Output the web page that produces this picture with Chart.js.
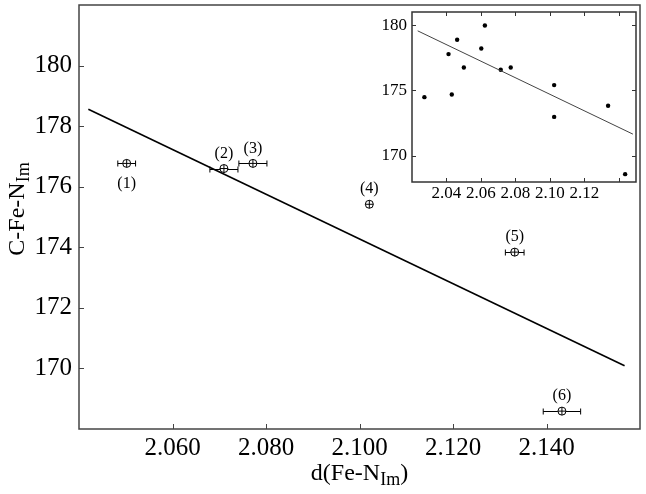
<!DOCTYPE html>
<html lang="en">
<head>
  <meta charset="UTF-8" />
  <title>C-Fe-N(Im) vs d(Fe-N(Im))</title>
  <script src="https://cdn.jsdelivr.net/npm/chart.js"></script>
  <style>
    html, body { margin: 0; padding: 0; background: #fff; }
    #wrap { position: relative; width: 646px; height: 494px; }
    #main { position: absolute; left: 0; top: 0; }
    #inset { position: absolute; left: 370px; top: 0; }
  </style>
</head>
<body>
  <div id="wrap">
    <canvas id="main" width="646" height="494"></canvas>
    <canvas id="inset" width="276" height="205"></canvas>
  </div>

  <script>
    // main plot data
    const pointLabels = ['(1)', '(2)', '(3)', '(4)', '(5)', '(6)'];
    const dFeN = [2.0502, 2.0710, 2.0772, 2.1021, 2.1332, 2.1433];
    const angleCFeN = [176.77, 176.60, 176.77, 175.42, 173.84, 168.59];
    const dErr = [0.0019, 0.0030, 0.0030, 0.0005, 0.0020, 0.0040];
    const fitX = [2.0420, 2.1567];
    const fitY = [178.56, 170.09];
    const xTicks = [2.060, 2.080, 2.100, 2.120, 2.140];
    const yTicks = [170, 172, 174, 176, 178, 180];

    // inset data
    const insetX = [2.0272, 2.0412, 2.0431, 2.0462, 2.0501, 2.0602, 2.0623, 2.0715, 2.0773, 2.1025, 2.1025, 2.1338, 2.1437];
    const insetY = [174.49, 177.78, 174.69, 178.88, 176.76, 178.21, 179.97, 176.58, 176.76, 175.41, 172.98, 173.83, 168.60];
    const insetFitX = [2.0233, 2.1482];
    const insetFitY = [179.56, 171.66];
    const insetXTicks = [2.04, 2.06, 2.08, 2.10, 2.12, 2.14];
    const insetXLabels = ['2.04', '2.06', '2.08', '2.10', '2.12', ''];
    const insetYTicks = [170, 175, 180];

    const SERIF = '"Liberation Serif", "Times New Roman", serif';

    function toPoints(xs, ys) {
      return xs.map((x, i) => ({ x, y: ys[i] }));
    }

    // no automatic label padding around the plot area
    function noPad(s) {
      s.paddingTop = 0; s.paddingBottom = 0;
      s.paddingLeft = 0; s.paddingRight = 0;
    }

    // text with a subscript part, centred on (cx, y)
    function drawSubText(ctx, cx, y, main, sub, tail, size, subSize, drop) {
      ctx.font = size + 'px ' + SERIF;
      const w1 = ctx.measureText(main).width;
      const w3 = ctx.measureText(tail).width;
      ctx.font = subSize + 'px ' + SERIF;
      const w2 = ctx.measureText(sub).width;
      let x = cx - (w1 + w2 + w3) / 2;
      ctx.textAlign = 'left';
      ctx.textBaseline = 'alphabetic';
      ctx.font = size + 'px ' + SERIF;
      ctx.fillText(main, x, y);
      ctx.font = subSize + 'px ' + SERIF;
      ctx.fillText(sub, x + w1, y + drop);
      ctx.font = size + 'px ' + SERIF;
      ctx.fillText(tail, x + w1 + w2, y);
    }

    // frame and inward tick marks
    function drawFrame(chart, xVals, yVals, len, allSides, color, width) {
      const { ctx, chartArea: a, scales } = chart;
      ctx.save();
      ctx.strokeStyle = color;
      ctx.lineWidth = width;
      ctx.strokeRect(a.left, a.top, a.right - a.left, a.bottom - a.top);
      ctx.lineWidth = 1;
      ctx.beginPath();
      xVals.forEach(v => {
        const px = Math.round(scales.x.getPixelForValue(v)) + 0.5;
        ctx.moveTo(px, a.bottom); ctx.lineTo(px, a.bottom - len);
        if (allSides) { ctx.moveTo(px, a.top); ctx.lineTo(px, a.top + len); }
      });
      yVals.forEach(v => {
        const py = Math.round(scales.y.getPixelForValue(v)) + 0.5;
        ctx.moveTo(a.left, py); ctx.lineTo(a.left + len, py);
        if (allSides) { ctx.moveTo(a.right, py); ctx.lineTo(a.right - len, py); }
      });
      ctx.stroke();
      ctx.restore();
    }

    const mainDecor = {
      id: 'mainDecor',
      beforeDatasetsDraw(chart) {
        const { ctx, scales: { x, y } } = chart;
        ctx.save();
        ctx.strokeStyle = '#000';
        ctx.lineWidth = 1;
        dFeN.forEach((d, i) => {
          const py = Math.round(y.getPixelForValue(angleCFeN[i])) + 0.5;
          const x0 = x.getPixelForValue(d - dErr[i]);
          const x1 = x.getPixelForValue(d + dErr[i]);
          ctx.beginPath();
          ctx.moveTo(x0, py); ctx.lineTo(x1, py);
          ctx.moveTo(x0, py - 3); ctx.lineTo(x0, py + 3);
          ctx.moveTo(x1, py - 3); ctx.lineTo(x1, py + 3);
          ctx.stroke();
        });
        ctx.restore();
      },
      afterDatasetsDraw(chart) {
        const { ctx, scales: { x, y } } = chart;
        drawFrame(chart, xTicks, yTicks, 5, false, '#444', 1.5);
        ctx.save();
        ctx.fillStyle = '#000';
        ctx.font = '16px ' + SERIF;
        ctx.textAlign = 'center';
        ctx.textBaseline = 'middle';
        pointLabels.forEach((lab, i) => {
          const px = x.getPixelForValue(dFeN[i]);
          const py = y.getPixelForValue(angleCFeN[i]);
          ctx.fillText(lab, px, i === 0 ? py + 20 : py - 15);
        });
        // axis titles
        const a = chart.chartArea;
        drawSubText(ctx, (a.left + a.right) / 2, 480, 'd(Fe-N', 'Im', ')', 24, 18, 5);
        ctx.translate(24, 209);
        ctx.rotate(-Math.PI / 2);
        drawSubText(ctx, 0, 0, 'C-Fe-N', 'Im', '', 24, 18, 5);
        ctx.restore();
      }
    };

    new Chart(document.getElementById('main'), {
      type: 'scatter',
      data: {
        datasets: [
          {
            data: toPoints(fitX, fitY),
            showLine: true,
            borderColor: '#000',
            borderWidth: 1.6,
            pointRadius: 0,
            order: 3
          },
          {
            data: toPoints(dFeN, angleCFeN),
            pointStyle: 'circle',
            pointRadius: 4,
            backgroundColor: '#fff',
            borderColor: '#000',
            borderWidth: 1,
            order: 2
          },
          {
            data: toPoints(dFeN, angleCFeN),
            pointStyle: 'cross',
            pointRadius: 4,
            borderColor: '#000',
            borderWidth: 1,
            order: 1
          }
        ]
      },
      options: {
        responsive: false,
        animation: false,
        devicePixelRatio: 1,
        layout: { padding: { top: 5, right: 6, left: 0, bottom: 0 } },
        plugins: { legend: { display: false }, tooltip: { enabled: false } },
        scales: {
          x: {
            type: 'linear',
            min: 2.04,
            max: 2.16,
            afterBuildTicks: s => { s.ticks = xTicks.map(v => ({ value: v })); },
            afterFit: s => { s.height = 65; noPad(s); },
            grid: { display: false, drawTicks: false },
            border: { display: false },
            ticks: {
              color: '#000',
              padding: 4,
              font: { family: SERIF, size: 25 },
              callback: v => v.toFixed(3)
            }
          },
          y: {
            type: 'linear',
            min: 168,
            max: 182,
            afterBuildTicks: s => { s.ticks = yTicks.map(v => ({ value: v })); },
            afterFit: s => { s.width = 79; noPad(s); },
            grid: { display: false, drawTicks: false },
            border: { display: false },
            ticks: {
              color: '#000',
              padding: 7,
              font: { family: SERIF, size: 25 }
            }
          }
        }
      },
      plugins: [mainDecor]
    });

    const insetDecor = {
      id: 'insetDecor',
      beforeDraw(chart) {
        const { ctx, chartArea: a } = chart;
        ctx.save();
        ctx.fillStyle = '#fff';
        ctx.fillRect(a.left, a.top, a.right - a.left, a.bottom - a.top);
        ctx.restore();
      },
      afterDatasetsDraw(chart) {
        drawFrame(chart, insetXTicks, insetYTicks, 4, true, '#333', 1.5);
      }
    };

    new Chart(document.getElementById('inset'), {
      type: 'scatter',
      data: {
        datasets: [
          {
            data: toPoints(insetFitX, insetFitY),
            showLine: true,
            borderColor: '#444',
            borderWidth: 1,
            pointRadius: 0
          },
          {
            data: toPoints(insetX, insetY),
            pointStyle: 'circle',
            pointRadius: 2.2,
            backgroundColor: '#000',
            borderWidth: 0
          }
        ]
      },
      options: {
        responsive: false,
        animation: false,
        devicePixelRatio: 1,
        layout: { padding: { top: 12, right: 10, left: 0, bottom: 0 } },
        plugins: { legend: { display: false }, tooltip: { enabled: false } },
        scales: {
          x: {
            type: 'linear',
            min: 2.02,
            max: 2.15,
            afterBuildTicks: s => { s.ticks = insetXTicks.map(v => ({ value: v })); },
            afterFit: s => { s.height = 23; noPad(s); },
            grid: { display: false, drawTicks: false },
            border: { display: false },
            ticks: {
              color: '#000',
              padding: 1,
              font: { family: SERIF, size: 17 },
              callback: (v, i) => insetXLabels[i]
            }
          },
          y: {
            type: 'linear',
            min: 168,
            max: 181,
            afterBuildTicks: s => { s.ticks = insetYTicks.map(v => ({ value: v })); },
            afterFit: s => { s.width = 42; noPad(s); },
            grid: { display: false, drawTicks: false },
            border: { display: false },
            ticks: {
              color: '#000',
              padding: 5,
              font: { family: SERIF, size: 17 }
            }
          }
        }
      },
      plugins: [insetDecor]
    });
  </script>
</body>
</html>
